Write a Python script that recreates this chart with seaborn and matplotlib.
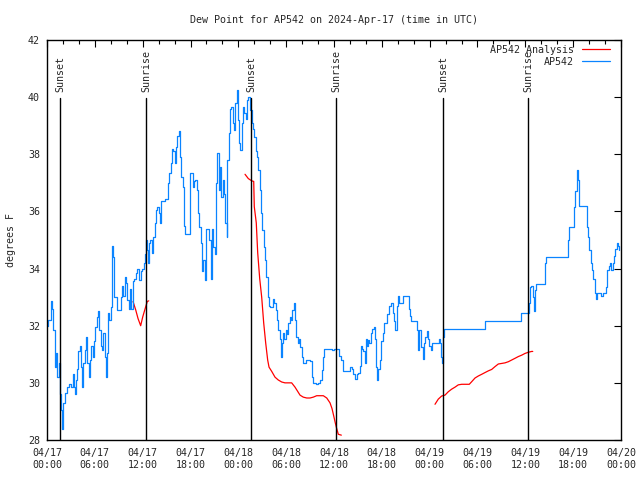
import matplotlib
matplotlib.use("Agg")
import matplotlib.pyplot as plt
import seaborn as sns
import pandas as pd

# hours since 2024-04-17 00:00 UTC
blue_hours = [
    0.0, 0.13, 0.44, 0.63, 0.75, 1.0, 1.13, 1.25, 1.47, 1.59, 1.79, 1.92, 2.04, 2.22, 2.47,
    2.76, 3.05, 3.22, 3.39, 3.51, 3.68, 3.8, 3.93, 4.1, 4.3, 4.43, 4.55, 4.73, 4.89, 5.06,
    5.23, 5.39, 5.56, 5.73, 5.9, 6.06, 6.23, 6.4, 6.56, 6.74, 6.9, 7.06, 7.24, 7.36, 7.49,
    7.65, 7.81, 7.99, 8.15, 8.28, 8.4, 8.62, 8.82, 9.07, 9.24, 9.41, 9.57, 9.75, 9.87, 10.07,
    10.29, 10.41, 10.57, 10.75, 10.91, 11.13, 11.33, 11.5, 11.75, 11.95, 12.17, 12.29, 12.42,
    12.58, 12.71, 12.8, 12.92, 13.13, 13.33, 13.51, 13.67, 13.84, 14.01, 14.17, 14.34, 14.59,
    14.8, 15.02, 15.18, 15.34, 15.52, 15.68, 15.84, 16.02, 16.18, 16.34, 16.52, 16.65, 16.85,
    17.02, 17.19, 17.31, 17.81, 17.94, 18.1, 18.28, 18.44, 18.6, 18.78, 18.94, 19.1, 19.28,
    19.44, 19.61, 19.78, 19.94, 20.2, 20.36, 20.53, 20.7, 20.86, 21.04, 21.2, 21.36, 21.54,
    21.7, 21.86, 22.04, 22.2, 22.37, 22.54, 22.62, 22.79, 22.96, 23.12, 23.29, 23.46, 23.62,
    23.8, 23.96, 24.12, 24.25, 24.42, 24.59, 24.75, 24.92, 25.09, 25.25, 25.43, 25.68, 25.84,
    26.0, 26.18, 26.34, 26.5, 26.68, 26.84, 27.01, 27.18, 27.35, 27.51, 27.68, 27.85, 28.01,
    28.19, 28.35, 28.51, 28.69, 28.85, 29.01, 29.19, 29.32, 29.44, 29.6, 29.77, 29.94, 30.11,
    30.27, 30.44, 30.61, 30.77, 30.95, 31.11, 31.27, 31.45, 31.61, 31.77, 31.95, 32.11, 32.36,
    32.53, 32.87, 33.03, 33.2, 33.37, 33.7, 34.03, 34.28, 34.46, 34.62, 34.78, 35.5, 35.79,
    36.04, 36.38, 36.63, 36.88, 37.17, 37.76, 38.01, 38.22, 38.42, 38.64, 38.85, 39.05, 39.26,
    39.42, 39.55, 39.68, 39.85, 40.02, 40.14, 40.27, 40.43, 40.61, 40.81, 40.98, 41.14, 41.27,
    41.4, 41.56, 41.77, 41.93, 42.11, 42.27, 42.52, 42.69, 42.86, 43.19, 43.36, 43.53, 43.69,
    43.87, 44.03, 44.19, 44.53, 44.69, 45.2, 45.37, 45.53, 45.7, 46.2, 46.38, 46.5, 46.63,
    46.79, 46.95, 47.13, 47.29, 47.45, 47.63, 47.79, 47.96, 48.13, 48.29, 48.96, 49.13, 49.3,
    49.42, 49.55, 49.64, 49.8, 54.73, 54.94, 59.25, 59.42, 60.25, 60.43, 60.59, 60.75, 60.93,
    61.05, 61.18, 61.34, 62.26, 62.43, 62.59, 65.19, 65.35, 65.52, 65.94, 66.11, 66.27, 66.44,
    66.61, 66.77, 67.52, 67.7, 67.86, 68.03, 68.2, 68.36, 68.53, 68.7, 68.83, 68.95, 69.46,
    69.79, 70.12, 70.28, 70.46, 70.62, 70.79, 70.96, 71.13, 71.29, 71.46, 71.63, 71.79,
]
blue_values = [
    32.0, 32.2, 32.85, 32.6, 31.85, 30.55, 31.05, 30.2, 30.7, 29.6, 29.05, 28.4, 29.3, 29.65, 29.85,
    29.95, 29.85, 30.3, 29.85, 29.6, 30.1, 30.5, 31.1, 31.3, 30.55, 29.85, 30.7, 31.15, 31.6, 30.7,
    30.2, 30.8, 31.3, 30.9, 31.45, 31.95, 32.3, 32.5, 31.85, 31.3, 31.15, 31.75, 30.9, 30.2, 31.05,
    32.45, 32.2, 32.65, 34.8, 34.4, 33.0, 33.0, 32.55, 32.55, 33.0, 33.4, 33.05, 33.7, 33.5, 32.9,
    32.6, 33.3, 32.6, 33.55, 33.65, 33.85, 34.0, 33.6, 33.9, 34.0, 34.2, 34.5, 35.0,
    34.65, 34.2, 34.9, 35.0, 34.55, 35.1, 35.6, 36.05, 36.15, 35.95, 35.6, 36.35, 36.35,
    36.45, 36.45, 37.0, 37.35, 37.7, 38.2, 38.1, 37.7, 38.25, 38.65, 38.8, 37.9, 37.2,
    36.85, 35.5, 35.2, 35.2, 37.35, 37.35, 36.85, 37.05, 37.1, 36.75, 35.95, 35.45, 34.9,
    33.9, 34.3, 33.6, 35.4, 35.4, 35.0, 33.65, 35.4, 34.75, 34.5, 37.0, 38.05, 36.75,
    37.55, 36.5, 37.1, 36.6, 35.6, 35.1, 37.8, 38.75, 39.6, 39.65, 39.1, 38.85, 39.8,
    40.25, 39.2, 38.4, 38.15, 39.1, 39.65, 39.45, 39.25, 39.9, 40.0, 39.55, 39.1, 38.9,
    38.6, 38.1, 37.9, 37.45, 36.75, 35.95, 35.35, 34.75, 34.3, 33.7, 33.0, 32.7, 32.65,
    32.65, 32.95, 32.8, 32.55, 32.2, 31.85, 31.55, 30.9, 31.4, 31.75, 31.55, 31.85, 31.7,
    32.1, 32.3, 32.2, 32.55, 32.8, 32.2, 31.6, 31.4, 31.55, 31.25, 30.9, 30.7, 30.7,
    30.8, 30.8, 30.75, 30.2, 30.0, 29.95, 30.0, 30.1, 30.45, 30.9, 31.2, 31.2, 31.15,
    31.2, 31.2, 30.95, 30.8, 30.4, 30.4, 30.55, 30.5, 30.3, 30.15, 30.3, 30.35, 30.6,
    31.3, 31.2, 31.1, 30.7, 31.55, 31.3, 31.5, 31.4, 31.75, 31.9, 31.95, 31.55, 30.55,
    30.1, 30.5, 30.8, 31.45, 31.75, 32.1, 32.1, 32.4, 32.7, 32.8, 32.45, 32.15, 31.85,
    32.7, 33.05, 32.8, 32.8, 33.05, 33.05, 32.6, 32.35, 32.15, 32.15, 31.85, 31.15, 31.85,
    31.85, 31.25, 30.85, 31.4, 31.6, 31.8, 31.55, 31.3, 31.15, 31.4, 31.4, 31.55, 31.4,
    30.9, 30.7, 31.6, 31.9, 31.9, 32.15, 32.15, 32.45, 32.45, 32.8, 33.35, 33.4, 33.0,
    32.5, 33.25, 33.45, 33.45, 34.2, 34.4, 34.4, 35.0, 35.45, 35.45, 36.15, 36.7, 37.45,
    37.1, 36.2, 36.2, 35.45, 35.1, 34.65, 34.2, 33.95, 33.65, 33.15, 32.95, 33.15, 33.05,
    33.15, 33.35, 33.95, 34.1, 34.2, 33.95, 34.2, 34.45, 34.7, 34.9, 34.8, 34.65,
]

red_hours = [
    10.79, 11.13, 11.42, 11.75, 12.0, 12.26, 12.42, 12.58, 12.76,
    24.84, 25.25, 25.68, 25.93, 26.0, 26.25, 26.43, 26.68, 26.93, 27.18, 27.43, 27.68, 27.85,
    28.19, 28.6, 29.01, 29.44, 29.85, 30.69, 31.11, 31.74, 32.15, 32.58, 32.99, 33.4, 33.83,
    34.24, 34.66, 35.09, 35.5, 35.75, 36.0, 36.16, 36.34, 36.54, 36.92,
    48.67, 49.08, 49.51, 49.92, 50.34, 50.76, 51.18, 51.59, 52.02, 52.97, 53.27, 53.69, 54.1,
    54.53, 54.94, 55.36, 55.78, 56.2, 56.61, 57.04, 57.45, 57.87, 58.29, 58.71, 59.12, 59.55,
    59.96, 60.37, 60.8, 60.93,
]
red_values = [
    32.85, 32.55, 32.25, 32.0, 32.3, 32.55, 32.7, 32.85, 32.87,
    37.3, 37.15, 37.07, 37.05, 36.17, 35.6, 34.55, 33.65, 33.0, 32.1, 31.4, 30.8, 30.55,
    30.4, 30.2, 30.1, 30.03, 30.0, 30.0, 29.85, 29.57, 29.5, 29.47, 29.47, 29.5, 29.55,
    29.55, 29.55, 29.47, 29.3, 29.1, 28.8, 28.6, 28.4, 28.2, 28.17,
    29.25, 29.43, 29.54, 29.57, 29.69, 29.78, 29.85, 29.93, 29.95, 29.95, 30.04, 30.17, 30.24,
    30.3, 30.36, 30.42, 30.47, 30.57, 30.66, 30.68, 30.7, 30.74, 30.8, 30.86, 30.92, 30.97,
    31.03, 31.07, 31.1, 31.1,
]
red_segment = [1] * 9 + [2] * 36 + [3] * 30

sun_hours = [1.63, 12.42, 25.6, 36.26, 49.7, 60.35]
sun_labels = ["Sunset", "Sunrise", "Sunset", "Sunrise", "Sunset", "Sunrise"]

tick_hours = list(range(0, 73, 6))
tick_labels = [
    "04/17\n00:00", "04/17\n06:00", "04/17\n12:00", "04/17\n18:00",
    "04/18\n00:00", "04/18\n06:00", "04/18\n12:00", "04/18\n18:00",
    "04/19\n00:00", "04/19\n06:00", "04/19\n12:00", "04/19\n18:00",
    "04/20\n00:00",
]

sns.set_theme(style="white")
plt.rcParams["font.family"] = ["DejaVu Sans Mono", "DejaVu Sans"]
fs = 7.2
red = "#ff0000"
blue = "#0a84ff"

obs = pd.DataFrame({"hour": blue_hours, "dewpoint": blue_values})
ana = pd.DataFrame({"hour": red_hours, "dewpoint": red_values, "segment": red_segment})

fig = plt.figure(figsize=(6.4, 4.8), dpi=100)
ax = fig.add_axes([47 / 640, 40 / 480, 574 / 640, 400 / 480])

sns.lineplot(data=ana, x="hour", y="dewpoint", units="segment", estimator=None,
             color=red, lw=0.9, ax=ax, legend=False, sort=False)
sns.lineplot(data=obs, x="hour", y="dewpoint", color=blue, lw=0.9,
             drawstyle="steps-post", ax=ax, legend=False)

# sunrise / sunset markers
for h, lab in zip(sun_hours, sun_labels):
    ax.axvline(h, ymin=0, ymax=0.855, color="black", lw=1.0)
    ax.text(h, 0.87, lab, transform=ax.get_xaxis_transform(), rotation=90,
            ha="center", va="bottom", fontsize=fs)

ax.set_xlim(0, 72)
ax.set_ylim(28, 42)
ax.set_xticks(tick_hours)
ax.set_xticklabels(tick_labels, fontsize=fs)
ax.set_xticks(list(range(0, 73, 2)), minor=True)
ax.set_yticks(list(range(28, 43, 2)))
ax.set_yticklabels([str(v) for v in range(28, 43, 2)], fontsize=fs)
ax.tick_params(which="both", direction="in", top=True, right=True, color="black")
ax.tick_params(which="major", length=5, width=0.8)
ax.tick_params(which="minor", length=3, width=0.8)
ax.tick_params(axis="x", pad=6)
ax.tick_params(axis="y", pad=5)
for s in ax.spines.values():
    s.set_color("black")
    s.set_linewidth(1.0)

ax.set_xlabel("")
ax.set_ylabel("degrees F", fontsize=fs, labelpad=9)

h1, = ax.plot([], [], color=red, lw=0.9)
h2, = ax.plot([], [], color=blue, lw=0.9)
ax.legend([h1, h2], ["AP542 Analysis", "AP542"], loc="upper right",
          bbox_to_anchor=(0.984, 0.9925), frameon=False,
          markerfirst=False, fontsize=fs, handlelength=2.8, handletextpad=0.8,
          borderaxespad=0.0, borderpad=0.2, labelspacing=0.2)

fig.text(334 / 640, 1 - 20 / 480, "Dew Point for AP542 on 2024-Apr-17 (time in UTC)",
         ha="center", va="center", fontsize=fs)

fig.savefig("out.png", dpi=100)
